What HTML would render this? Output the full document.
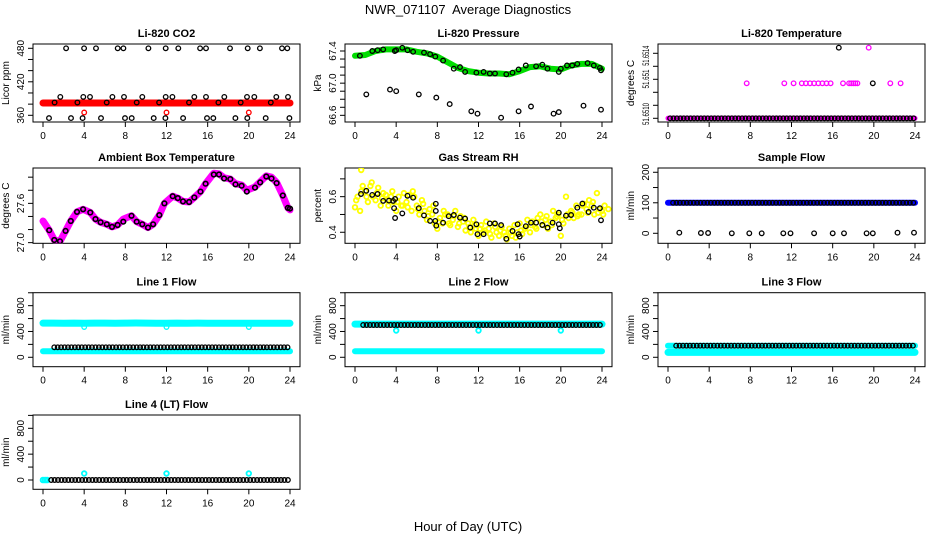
<!DOCTYPE html>
<html><head><meta charset="utf-8">
<style>
html,body{margin:0;padding:0;background:#fff;}
svg{display:block;font-family:"Liberation Sans",Arial,sans-serif;}
</style></head>
<body>
<svg id="chart" width="936" height="540" viewBox="0 0 936 540" xmlns="http://www.w3.org/2000/svg">
<rect width="936" height="540" fill="#fff"/>
<text x="468" y="14" font-size="13" text-anchor="middle" style="white-space:pre">NWR_071107&#160; Average Diagnostics</text>
<text x="468" y="531" font-size="13" text-anchor="middle">Hour of Day (UTC)</text>
</svg>
<script>
// ---------- data ----------
const bandHours = [0,1,2,3,4,5,6,7,8,9,10,11,12,13,14,15,16,17,18,19,20,21,22,23,24];
const xTickLabels = [0,4,8,12,16,20,24];

// CO2
const co2Red = [382,382,382,382,382,382,382,382,382,382,382,382,382,382,382,382,382,382,382,382,382,382,382,382,382];
const co2RedOutHours = [4,12,20];
const co2RedOutVals = [365,365,365];
const co2BlackHours = [2.24,3.99,5.15,7.26,7.81,10.24,11.92,13.15,15.26,15.84,18.17,19.89,21.08,23.22,23.74,
  1.68,3.92,4.57,6.74,7.87,9.65,11.92,12.57,14.7,15.84,17.62,19.82,20.53,22.67,23.81,
  1.13,3.34,6.19,9.1,11.28,14.19,17.04,19.21,22.13,
  0.58,2.72,3.85,5.64,7.97,8.62,10.76,11.89,13.61,15.94,16.55,18.69,19.85,21.64,23.94];
const co2BlackVals = [480,480,480,480,480,480,480,480,480,480,480,480,480,480,480,
  393,393,393,393,393,393,393,393,393,393,393,393,393,393,393,
  383,383,383,383,383,383,383,383,383,
  355,355,355,355,355,355,355,355,355,355,355,355,355,355,355];

// Pressure
const pressGreen = [67.34,67.35,67.4,67.42,67.42,67.42,67.39,67.37,67.33,67.26,67.19,67.15,67.13,67.12,67.12,67.11,67.15,67.2,67.21,67.18,67.17,67.22,67.24,67.24,67.18];
const pressBlackHours = [0.48,1.68,2.2,2.74,3.87,4.0,4.6,5.1,5.65,6.7,7.3,7.8,8.56,9.6,10.2,10.7,11.8,12.5,13.1,13.6,14.7,15.3,15.9,16.6,17.6,18.2,18.7,19.8,20.0,20.6,21.1,21.6,22.6,23.2,23.8,23.9,
  1.1,3.4,4.0,6.2,7.9,9.2,11.3,11.9,14.2,15.9,17.1,19.3,19.8,22.2,23.9];
const pressBlackVals = [67.34,67.4,67.41,67.42,67.4,67.41,67.44,67.41,67.39,67.38,67.36,67.33,67.28,67.18,67.2,67.14,67.13,67.14,67.12,67.12,67.11,67.13,67.17,67.22,67.21,67.23,67.18,67.14,67.18,67.22,67.22,67.24,67.25,67.22,67.19,67.16,
  66.86,66.92,66.9,66.86,66.82,66.74,66.65,66.62,66.57,66.65,66.71,66.62,66.64,66.72,66.67];

// Li-820 temperature
const tempBase = [51.651,51.651,51.651,51.651,51.651,51.651,51.651,51.651,51.651,51.651,51.651,51.651,51.651,51.651,51.651,51.651,51.651,51.651,51.651,51.651,51.651,51.651,51.651,51.651,51.651];
const tempMagHours = [7.65,11.3,12.2,13.0,13.4,13.8,14.2,14.6,15.0,15.4,15.8,17.0,17.6,17.8,18.0,18.2,18.4,21.6,22.6,19.5];
const tempMagVals = [51.651269,51.651269,51.651269,51.651269,51.651269,51.651269,51.651269,51.651269,51.651269,51.651269,51.651269,51.651269,51.651269,51.651269,51.651269,51.651269,51.651269,51.651269,51.651269,51.651543];
const tempBlackHours = [19.9,16.6];
const tempBlackVals = [51.651269,51.651543];

// Ambient box temperature
const ambHours = [0,0.6,1.1,1.65,2.2,2.7,3.3,3.9,4.6,5.1,5.6,6.2,6.7,7.25,7.8,8.6,9.1,9.65,10.2,10.7,11.3,11.8,12.6,13.1,13.6,14.2,14.7,15.3,15.8,16.6,17.1,17.6,18.2,18.7,19.3,19.8,20.6,21.1,21.7,22.2,22.7,23.3,23.8,24];
const ambMagenta = [27.33,27.19,27.04,27.02,27.18,27.33,27.47,27.51,27.46,27.36,27.31,27.28,27.24,27.27,27.36,27.41,27.32,27.28,27.23,27.28,27.42,27.6,27.71,27.68,27.63,27.62,27.69,27.78,27.9,28.06,28.05,27.99,27.97,27.9,27.88,27.8,27.85,27.93,28.02,28.0,27.92,27.72,27.53,27.5];
const ambBlack = [null,27.19,27.04,27.02,27.18,27.33,27.47,27.51,27.46,27.36,27.31,27.28,27.24,27.27,27.32,27.41,27.32,27.28,27.23,27.28,27.42,27.6,27.71,27.68,27.63,27.62,27.69,27.78,27.9,28.04,28.04,27.98,27.97,27.89,27.87,27.78,27.84,27.92,28.01,27.98,27.91,27.72,27.53,27.52];

// Gas stream RH
const rhBlackHours = [0.58,1.1,1.67,2.2,2.74,3.3,3.7,3.9,3.8,3.9,4.6,5.1,5.65,6.2,6.7,7.3,7.8,7.85,7.85,7.9,8.56,9.1,9.6,10.2,10.7,11.2,11.8,11.9,12.5,13.1,13.6,14.2,14.7,15.3,15.8,15.9,16.0,16.6,17.1,17.6,18.2,18.7,19.2,19.8,19.8,19.9,20.5,21.0,21.6,22.1,22.7,23.2,23.8,23.9];
const rhBlackVals = [0.615,0.633,0.61,0.615,0.576,0.578,0.576,0.587,0.535,0.48,0.506,0.605,0.594,0.535,0.495,0.464,0.464,0.56,0.52,0.437,0.454,0.49,0.497,0.482,0.477,0.426,0.445,0.389,0.389,0.45,0.449,0.44,0.363,0.407,0.445,0.389,0.376,0.434,0.454,0.454,0.441,0.426,0.454,0.51,0.445,0.422,0.493,0.497,0.538,0.561,0.514,0.538,0.535,0.467];
const rhYellow = [[0.54,0.6,0.52,0.66],[0.63,0.57,0.66,0.6],[0.58,0.65,0.55,0.62],[0.61,0.55,0.6,0.57],[0.52,0.6,0.55,0.62],[0.57,0.61,0.52,0.6],[0.55,0.5,0.58,0.52],[0.47,0.53,0.5,0.45],[0.42,0.48,0.45,0.5],[0.5,0.44,0.47,0.52],[0.43,0.49,0.46,0.41],[0.45,0.4,0.47,0.42],[0.38,0.44,0.4,0.46],[0.42,0.37,0.45,0.4],[0.38,0.43,0.4,0.36],[0.42,0.38,0.44,0.4],[0.45,0.39,0.42,0.47],[0.4,0.46,0.43,0.48],[0.5,0.44,0.47,0.42],[0.46,0.52,0.48,0.5],[0.38,0.45,0.6,0.48],[0.52,0.48,0.55,0.5],[0.5,0.56,0.53,0.58],[0.55,0.5,0.62,0.53],[0.52,0.55]];
const rhYellow2 = [[0.58,0.63],[0.6,0.68],[0.62,0.59],[0.58,0.63],[0.57,0.55],[0.54,0.63],[0.53,0.56],[0.49,0.55],[0.46,0.52],[0.45,0.49],[0.45,0.48],[0.43,0.44],[0.42,0.41],[0.39,0.43],[0.41,0.38],[0.4,0.37],[0.41,0.43],[0.44,0.42],[0.46,0.49],[0.44,0.49],[0.47,0.5],[0.51,0.49],[0.55,0.51],[0.57,0.51],[0.5,0.53]];
const rhYellowOutHours = [0.6];
const rhYellowOutVals = [0.75];

// Sample flow
const sampleBlue = [100,100,100,100,100,100,100,100,100,100,100,100,100,100,100,100,100,100,100,100,100,100,100,100,100];
const sampleBlackPerHour = [100,100,100,100,100,100,100,100,100,100,100,100,100,100,100,100,100,100,100,100,100,100,100,100];
const sampleZeroHours = [1.1,3.2,3.9,6.2,7.9,9.1,11.2,11.9,14.2,16.0,17.1,19.3,19.9,22.3,23.9];
const sampleZeroVals = [2,1,1,0,0,0,0,0,0,0,0,0,0,2,2];

// Line flows
const line1CyanHi = [530,530,528,530,527,530,530,528,530,532,530,528,527,530,528,530,528,527,528,527,527,528,527,526,526];
const line1CyanLo = [95,95,95,95,95,95,95,95,95,95,95,95,95,95,95,95,95,95,95,95,95,95,95,95,95];
const line1CyanOutHours = [4,12,20];
const line1CyanOutVals = [470,470,470];
const line1Black = [155,155,155,155,155,155,155,155,155,155,155,155,155,155,155,155,155,155,155,155,155,155,155,155];

const line2CyanHi = [515,515,515,515,515,515,515,515,515,515,515,515,515,515,515,515,515,515,515,515,515,515,515,515,515];
const line2CyanLo = [95,95,95,95,95,95,95,95,95,95,95,95,95,95,95,95,95,95,95,95,95,95,95,95,95];
const line2CyanOutHours = [4,12,20];
const line2CyanOutVals = [415,415,415];
const line2Black = [500,500,500,500,500,500,500,500,500,500,500,500,500,500,500,500,500,500,500,500,500,500,500,500];

const line3CyanHi = [180,180,180,180,180,180,180,180,180,180,180,180,180,180,180,180,180,180,180,180,180,180,180,180,180];
const line3CyanLo = [75,75,75,75,75,75,75,75,75,75,75,75,75,75,75,75,75,75,75,75,75,75,75,75,75];
const line3Black = [180,180,180,180,180,180,180,180,180,180,180,180,180,180,180,180,180,180,180,180,180,180,180,180];

const line4CyanStartHours = [0,0.2,0.4];
const line4CyanStartVals = [0,0,0];
const line4CyanOutHours = [4,12,20];
const line4CyanOutVals = [100,100,100];
const line4Black = [0,0,0,0,0,0,0,0,0,0,0,0,0,0,0,0,0,0,0,0,0,0,0,0];

// ---------- drawing ----------
const NS = 'http://www.w3.org/2000/svg';
const svg = document.getElementById('chart');
const colLeft = [33,345,658];
const rowTop = [44,168,292.7,415];
const rowBot = [122,243.3,366.7,489.3];
const W = 267;

function mk(tag, attrs, parent){
  const e = document.createElementNS(NS, tag);
  for (const k in attrs) e.setAttribute(k, attrs[k]);
  (parent||svg).appendChild(e);
  return e;
}

function makePanel(col,row,opt){
  const L = colLeft[col], T = rowTop[row], B = rowBot[row];
  const g = mk('g',{});
  
  
  const xs = h => L + 10 + h*(W-20)/24;
  const ys = v => B - (v-opt.ymin)/(opt.ymax-opt.ymin)*(B-T);
  const t = mk('text',{x:L+W/2,y:T-7,'font-size':11,'font-weight':'bold','text-anchor':'middle'},g);
  t.textContent = opt.title;
  
  
  const yl = mk('text',{x:0,y:0,'font-size':10,'text-anchor':'middle',transform:`translate(${L-24},${(T+B)/2}) rotate(-90)`},g);
  yl.textContent = opt.ylab;
  
  
  opt.yticks.forEach(v=>{
    const y = ys(v);
    mk('line',{x1:L-5,x2:L,y1:y,y2:y,stroke:'#000','stroke-width':1},g);
  });
  opt.ylabels.forEach((lab,i)=>{
    const y = opt.ylabelPos ? opt.ylabelPos[i] : ys(lab);
    const attrs = {x:0,y:0,'font-size':opt.ylabelSize||10,'text-anchor':'middle',transform:`translate(${L-9},${y}) rotate(-90)`};
    if (opt.ylabelLen) { attrs.textLength = opt.ylabelLen[i]; attrs.lengthAdjust = 'spacingAndGlyphs'; }
    const tl = mk('text',attrs,g);
    tl.textContent = opt.ylabelText ? opt.ylabelText[i] : String(lab);
    
    
  });
  xTickLabels.forEach(h=>{
    mk('line',{x1:xs(h),x2:xs(h),y1:B,y2:B+5,stroke:'#000','stroke-width':1},g);
    const tl = mk('text',{x:xs(h),y:B+17,'font-size':10,'text-anchor':'middle'},g);
    tl.textContent = String(h);
    
    
  });
  const box = mk('rect',{x:L,y:T,width:W,height:B-T,fill:'none',stroke:'#000','stroke-width':1},g);
  
  
  const clipId = 'c'+col+row;
  const cp = mk('clipPath',{id:clipId},g);
  mk('rect',{x:L,y:T,width:W,height:B-T},cp);
  const marks = mk('g',{'clip-path':`url(#${clipId})`},g);
  return {xs,ys,marks};
}

function band(p, hours, vals, color, width, name){
  const pts = hours.map((h,i)=>`${p.xs(h).toFixed(1)},${p.ys(vals[i]).toFixed(1)}`).join(' ');
  const pl = mk('polyline',{points:pts,fill:'none',stroke:color,'stroke-width':width,'stroke-linejoin':'round','stroke-linecap':'round'},p.marks);
  
  
}
function pts(p, hours, vals, color, name, sw){
  hours.forEach((h,i)=>{
    if (vals[i]===null || vals[i]===undefined) return;
    const c = mk('circle',{cx:p.xs(h).toFixed(1),cy:p.ys(vals[i]).toFixed(1),r:2.3,fill:'none',stroke:color,'stroke-width':sw||1.3},p.marks);
    
    
  });
}
function perHourPts(p, vals, startOffset, color, name){
  vals.forEach((v,i)=>{
    [0.2,0.53,0.86].forEach(f=>{
      const h = i + f + startOffset;
      if (h>24) return;
      const c = mk('circle',{cx:p.xs(h).toFixed(1),cy:p.ys(v).toFixed(1),r:2.3,fill:'none',stroke:color,'stroke-width':1.3},p.marks);
      
      
    });
  });
}
function range(a,b,s){const r=[];for(let v=a;v<=b+1e-9;v+=s)r.push(+v.toFixed(6));return r;}

// CO2
let p = makePanel(0,0,{name:'panel-co2',title:'Li-820 CO2',ylab:'Licor ppm',ymin:348,ymax:487.7,yticks:range(360,480,20),ylabels:[360,420,480]});
band(p,bandHours,co2Red,'#ff0000',7,'co2-red-band');
pts(p,co2RedOutHours,co2RedOutVals,'#ff0000','co2-red-point');
pts(p,co2BlackHours,co2BlackVals,'#000','co2-black-point');

// Pressure
p = makePanel(1,0,{name:'panel-pressure',title:'Li-820 Pressure',ylab:'kPa',ymin:66.517,ymax:67.487,yticks:range(66.6,67.4,0.1),ylabels:[66.6,67.0,67.4],ylabelText:['66.6','67.0','67.4']});
band(p,bandHours,pressGreen,'#00dd00',6,'pressure-green-band');
pts(p,pressBlackHours,pressBlackVals,'#000','pressure-black-point');

// Temperature
p = makePanel(2,0,{name:'panel-li820-temp',title:'Li-820 Temperature',ylab:'degrees C',ymin:51.6509715,ymax:51.6515715,yticks:range(51.651,51.6515,0.0001),ylabels:[0,1,2],ylabelPos:[114,79,55.7],ylabelText:['51.6510','51.651','51.6514'],ylabelSize:9,ylabelLen:[22,19,20]});
band(p,bandHours,tempBase,'#ff00ff',5,'temp-magenta-band');
perHourPts(p,tempBase.slice(0,24),0,'#000','temp-black-point');
pts(p,tempMagHours,tempMagVals,'#ff00ff','temp-magenta-point');
pts(p,tempBlackHours,tempBlackVals,'#000','temp-black-outlier');

// Ambient
p = makePanel(0,1,{name:'panel-ambient-temp',title:'Ambient Box Temperature',ylab:'degrees C',ymin:26.99,ymax:28.14,yticks:range(27.0,28.0,0.2),ylabels:[27.0,27.6],ylabelText:['27.0','27.6']});
band(p,ambHours,ambMagenta,'#ff00ff',7,'ambient-magenta-band');
pts(p,ambHours,ambBlack,'#000','ambient-black-point',1.6);

// RH
p = makePanel(1,1,{name:'panel-gas-rh',title:'Gas Stream RH',ylab:'percent',ymin:0.338,ymax:0.761,yticks:range(0.4,0.7,0.1),ylabels:[0.4,0.6]});
rhYellow.forEach((arr,h)=>{ pts(p,arr.map((_,j)=>h+j*0.25),arr,'#ffff00','rh-yellow-point',1.8); });
rhYellow2.forEach((arr,h)=>{ pts(p,arr.map((_,j)=>h+0.12+j*0.5),arr,'#ffff00','rh-yellow-point',1.8); });
pts(p,rhYellowOutHours,rhYellowOutVals,'#ffff00','rh-yellow-outlier',1.8);
pts(p,rhBlackHours,rhBlackVals,'#000','rh-black-point');

// Sample flow
p = makePanel(2,1,{name:'panel-sample-flow',title:'Sample Flow',ylab:'ml/min',ymin:-32.8,ymax:214,yticks:range(0,200,50),ylabels:[0,100,200]});
band(p,bandHours,sampleBlue,'#0000ff',6,'sample-blue-band');
perHourPts(p,sampleBlackPerHour,0.3,'#000','sample-black-point');
pts(p,sampleZeroHours,sampleZeroVals,'#000','sample-zero-point');

// Line 1
p = makePanel(0,2,{name:'panel-line1-flow',title:'Line 1 Flow',ylab:'ml/min',ymin:-146,ymax:1001,yticks:range(0,1000,200),ylabels:[0,400,800]});
band(p,bandHours,line1CyanHi,'#00ffff',7,'line1-cyan-high');
band(p,bandHours,line1CyanLo,'#00ffff',6,'line1-cyan-low');
pts(p,line1CyanOutHours,line1CyanOutVals,'#00ffff','line1-cyan-outlier');
perHourPts(p,line1Black,0.9,'#000','line1-black-point');

// Line 2
p = makePanel(1,2,{name:'panel-line2-flow',title:'Line 2 Flow',ylab:'ml/min',ymin:-146,ymax:1001,yticks:range(0,1000,200),ylabels:[0,400,800]});
band(p,bandHours,line2CyanHi,'#00ffff',7,'line2-cyan-high');
band(p,bandHours,line2CyanLo,'#00ffff',6,'line2-cyan-low');
pts(p,line2CyanOutHours,line2CyanOutVals,'#00ffff','line2-cyan-outlier',1.8);
perHourPts(p,line2Black,0.6,'#000','line2-black-point');

// Line 3
p = makePanel(2,2,{name:'panel-line3-flow',title:'Line 3 Flow',ylab:'ml/min',ymin:-146,ymax:1001,yticks:range(0,1000,200),ylabels:[0,400,800]});
band(p,bandHours,line3CyanLo,'#00ffff',7,'line3-cyan-low');
band(p,bandHours,line3CyanHi,'#00ffff',6,'line3-cyan-high');
perHourPts(p,line3Black,0.6,'#000','line3-black-point');

// Line 4
p = makePanel(0,3,{name:'panel-line4-flow',title:'Line 4 (LT) Flow',ylab:'ml/min',ymin:-144,ymax:1006,yticks:range(0,1000,200),ylabels:[0,400,800]});
pts(p,line4CyanStartHours,line4CyanStartVals,'#00ffff','line4-cyan-point',2);
perHourPts(p,line4Black,0.6,'#000','line4-black-point');
pts(p,line4CyanOutHours,line4CyanOutVals,'#00ffff','line4-cyan-outlier',1.8);
</script>
</body></html>
